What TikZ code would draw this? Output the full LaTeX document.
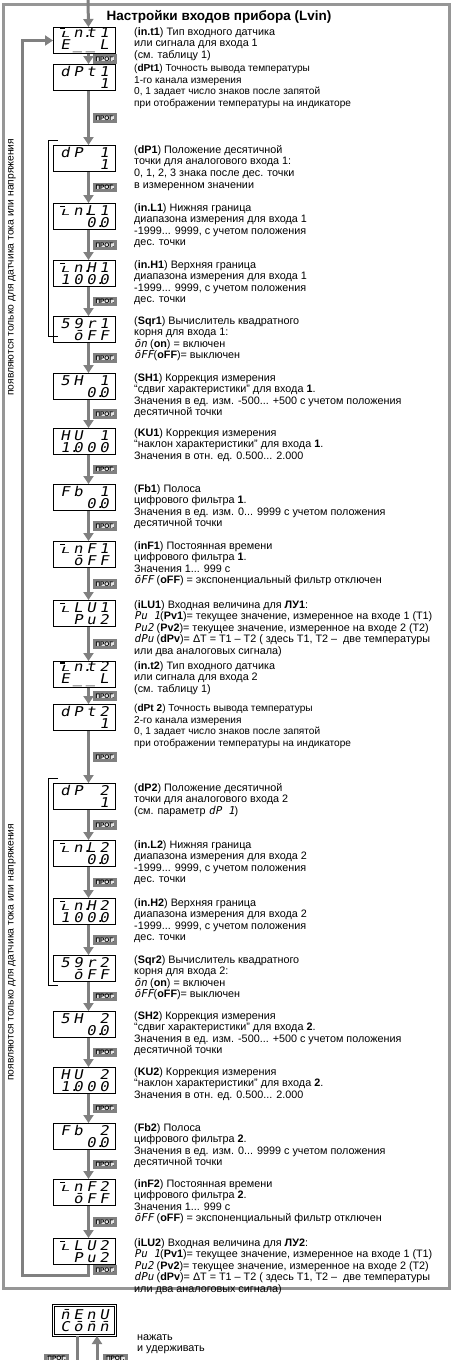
\documentclass[tikz,border=0pt]{standalone}
\usepackage{fontspec}
\setmainfont{Liberation Sans}
\newfontfamily\segfont{DejaVu Sans Mono}[FakeSlant=0.2,FakeStretch=1.15]
\newfontfamily\segtext{DejaVu Sans Mono}[FakeSlant=0.2]
\usetikzlibrary{arrows.meta}

\definecolor{flowgray}{RGB}{128,128,128}
\definecolor{framegray}{RGB}{150,150,150}

% segment-display letters
\newcommand\segi{\rlap{\raisebox{0.62em}{\rule{0.32em}{0.08em}}}\scalebox{1}[0.62]{L}}
\newcommand\dt{\rlap{.}}
\newcommand\cell[1]{\makebox[13pt][c]{#1}}
\newcommand\dd[4]{\cell{#1}\cell{#2}\cell{#3}\cell{#4}}
\newcommand\sg[1]{{\segtext #1}}

\begin{document}
\begin{tikzpicture}[x=1pt, y=-1pt,
        disp/.style={draw, line width=1pt, anchor=north west, minimum width=62pt, minimum height=26pt,
            inner xsep=0pt, inner ysep=0pt, text width=56pt, align=center,
            font=\segfont\fontsize{13.5}{12}\selectfont},
        menu/.style={disp, double, double distance=1.2pt, minimum height=30pt},
        desc/.style={anchor=north west, align=left, inner sep=0pt, font=\fontsize{10.8}{11.6}\selectfont},
        descsm/.style={desc, font=\fontsize{10.1}{11.6}\selectfont},
        flow/.style={draw=flowgray, line width=3pt, -{Triangle[length=8pt,width=10pt]}},
        flowline/.style={draw=flowgray, line width=3pt},
        prog/.style={draw, fill=gray!20, inner xsep=1.5pt, inner ysep=1pt, font=\bfseries\fontsize{6.5}{7}\selectfont},
        brk/.style={line width=0.6pt},
        vnote/.style={rotate=90, anchor=west, inner sep=0pt, font=\fontsize{10.3}{11}\selectfont}
    ]
    \useasboundingbox (0,0) rectangle (460,1360);

    % frame and title
    \draw[framegray, line width=3pt] (3,4) rectangle (449,1288);
    \node[font=\bfseries\fontsize{13.5}{15}\selectfont] (title) at (219,17) {Настройки входов прибора (Lvin)};

    % displays
    \foreach \nm/\yy/\ta/\tb in {
        int1/27/{\dd{\segi}{n\dt}{t}{1}}/{\dd{E}{\_}{\_}{L}},
        dpt1/64/{\dd{d}{P}{t}{1}}/{\dd{}{}{}{1}},
        dp1/145/{\dd{d}{P}{}{1}}/{\dd{}{}{}{1}},
        inl1/203/{\dd{\segi}{n\dt}{L}{1}}/{\dd{}{}{0\dt}{0}},
        inh1/260/{\dd{\segi}{n\dt}{H}{1}}/{\dd{1}{0}{0\dt}{0}},
        sqr1/316/{\dd{5}{9}{r}{1}}/{\dd{}{\=o}{F}{F}},
        sh1/373/{\dd{5}{H}{}{1}}/{\dd{}{}{0\dt}{0}},
        ku1/428/{\dd{H}{U}{}{1}}/{\dd{1\dt}{0}{0}{0}},
        fb1/484/{\dd{F}{b}{}{1}}/{\dd{}{}{0\dt}{0}},
        inf1/541/{\dd{\segi}{n}{F}{1}}/{\dd{}{\=o}{F}{F}},
        ilu1/600/{\dd{\segi}{L}{U}{1}}/{\dd{}{P}{u}{2}},
        int2/661/{\dd{\segi}{n\dt}{t}{2}}/{\dd{E}{\_}{\_}{L}},
        dpt2/704/{\dd{d}{P}{t}{2}}/{\dd{}{}{}{1}},
        dp2/783/{\dd{d}{P}{}{2}}/{\dd{}{}{}{1}},
        inl2/840/{\dd{\segi}{n\dt}{L}{2}}/{\dd{}{}{0\dt}{0}},
        inh2/898/{\dd{\segi}{n\dt}{H}{2}}/{\dd{1}{0}{0\dt}{0}},
        sqr2/955/{\dd{5}{9}{r}{2}}/{\dd{}{\=o}{F}{F}},
        sh2/1011/{\dd{5}{H}{}{2}}/{\dd{}{}{0\dt}{0}},
        ku2/1067/{\dd{H}{U}{}{2}}/{\dd{1\dt}{0}{0}{0}},
        fb2/1123/{\dd{F}{b}{}{2}}/{\dd{}{}{0\dt}{0}},
        inf2/1179/{\dd{\segi}{n}{F}{2}}/{\dd{}{\=o}{F}{F}},
        ilu2/1238/{\dd{\segi}{L}{U}{2}}/{\dd{}{P}{u}{2}}}
        \node[disp] (\nm) at (53,\yy) {\ta\\\tb};

    % PROG steps
    \foreach \a/\b in {int1/dpt1, dpt1/dp1, dp1/inl1, inl1/inh1, inh1/sqr1, sqr1/sh1, sh1/ku1,
        ku1/fb1, fb1/inf1, inf1/ilu1, ilu1/int2, int2/dpt2, dpt2/dp2, dp2/inl2, inl2/inh2,
        inh2/sqr2, sqr2/sh2, sh2/ku2, ku2/fb2, fb2/inf2, inf2/ilu2}
        \draw[flow] ([xshift=4]\a.south) -- node[prog, right=4pt] {ПРОГ.} ([xshift=4]\b.north);

    % entry and loop back
    \coordinate (entry) at (88,0);
    \coordinate (back) at (22,1275);
    \draw[flow] (entry) -- ([xshift=4]int1.north);
    \draw[flow] ([xshift=4]ilu2.south) |- node[prog, pos=0.25, right=4pt] {ПРОГ.} (back) |- (int1.west);

    % descriptions
    \node[desc] (int1-txt) at ([xshift=18]int1.north east) {(\textbf{in.t1}) Тип входного датчика\\или сигнала для входа 1\\(см. таблицу 1)};
    \node[descsm] (dpt1-txt) at ([xshift=18]dpt1.north east) {(\textbf{dPt1}) Точность вывода температуры\\1-го канала измерения\\0, 1 задает число знаков после запятой\\при отображении температуры на индикаторе};
    \node[desc] (dp1-txt) at ([xshift=18]dp1.north east) {(\textbf{dP1}) Положение десятичной\\точки для аналогового входа 1:\\0, 1, 2, 3 знака после дес. точки\\в измеренном значении};
    \node[desc] (inl1-txt) at ([xshift=18]inl1.north east) {(\textbf{in.L1}) Нижняя граница\\диапазона измерения для входа 1\\-1999... 9999, с учетом положения\\дес. точки};
    \node[desc] (inh1-txt) at ([xshift=18]inh1.north east) {(\textbf{in.H1}) Верхняя граница\\диапазона измерения для входа 1\\-1999... 9999, с учетом положения\\дес. точки};
    \node[desc] (sqr1-txt) at ([xshift=18]sqr1.north east) {(\textbf{Sqr1}) Вычислитель квадратного\\корня для входа 1:\\\sg{\=on} (\textbf{on}) = включен\\\sg{\=oFF}(\textbf{oFF})= выключен};
    \node[desc] (sh1-txt) at ([xshift=18]sh1.north east) {(\textbf{SH1}) Коррекция измерения\\“сдвиг характеристики” для входа \textbf{1}.\\Значения в ед. изм. -500... +500 с учетом положения\\десятичной точки};
    \node[desc] (ku1-txt) at ([xshift=18]ku1.north east) {(\textbf{KU1}) Коррекция измерения\\“наклон характеристики” для входа \textbf{1}.\\Значения в отн. ед. 0.500... 2.000};
    \node[desc] (fb1-txt) at ([xshift=18]fb1.north east) {(\textbf{Fb1}) Полоса\\цифрового фильтра \textbf{1}.\\Значения в ед. изм. 0... 9999 с учетом положения\\десятичной точки};
    \node[desc] (inf1-txt) at ([xshift=18]inf1.north east) {(\textbf{inF1}) Постоянная времени\\цифрового фильтра \textbf{1}.\\Значения 1... 999 с\\\sg{\=oFF} (\textbf{oFF}) = экспоненциальный фильтр отключен};
    \node[desc] (ilu1-txt) at ([xshift=18]ilu1.north east) {(\textbf{iLU1}) Входная величина для \textbf{ЛУ1}:\\\sg{Pu 1}(\textbf{Pv1})= текущее значение, измеренное на входе 1 (T1)\\\sg{Pu2} (\textbf{Pv2})= текущее значение, измеренное на входе 2 (T2)\\\sg{dPu} (\textbf{dPv})= ΔT = T1 – T2 ( здесь T1, T2 – \ две температуры\\или два аналоговых сигнала)};
    \node[desc] (int2-txt) at ([xshift=18]int2.north east) {(\textbf{in.t2}) Тип входного датчика\\или сигнала для входа 2\\(см. таблицу 1)};
    \node[descsm] (dpt2-txt) at ([xshift=18]dpt2.north east) {(\textbf{dPt 2}) Точность вывода температуры\\2-го канала измерения\\0, 1 задает число знаков после запятой\\при отображении температуры на индикаторе};
    \node[desc] (dp2-txt) at ([xshift=18]dp2.north east) {(\textbf{dP2}) Положение десятичной\\точки для аналогового входа 2\\(см. параметр \sg{dP 1})};
    \node[desc] (inl2-txt) at ([xshift=18]inl2.north east) {(\textbf{in.L2}) Нижняя граница\\диапазона измерения для входа 2\\-1999... 9999, с учетом положения\\дес. точки};
    \node[desc] (inh2-txt) at ([xshift=18]inh2.north east) {(\textbf{in.H2}) Верхняя граница\\диапазона измерения для входа 2\\-1999... 9999, с учетом положения\\дес. точки};
    \node[desc] (sqr2-txt) at ([xshift=18]sqr2.north east) {(\textbf{Sqr2}) Вычислитель квадратного\\корня для входа 2:\\\sg{\=on} (\textbf{on}) = включен\\\sg{\=oFF}(\textbf{oFF})= выключен};
    \node[desc] (sh2-txt) at ([xshift=18]sh2.north east) {(\textbf{SH2}) Коррекция измерения\\“сдвиг характеристики” для входа \textbf{2}.\\Значения в ед. изм. -500... +500 с учетом положения\\десятичной точки};
    \node[desc] (ku2-txt) at ([xshift=18]ku2.north east) {(\textbf{KU2}) Коррекция измерения\\“наклон характеристики” для входа \textbf{2}.\\Значения в отн. ед. 0.500... 2.000};
    \node[desc] (fb2-txt) at ([xshift=18]fb2.north east) {(\textbf{Fb2}) Полоса\\цифрового фильтра \textbf{2}.\\Значения в ед. изм. 0... 9999 с учетом положения\\десятичной точки};
    \node[desc] (inf2-txt) at ([xshift=18]inf2.north east) {(\textbf{inF2}) Постоянная времени\\цифрового фильтра \textbf{2}.\\Значения 1... 999 с\\\sg{\=oFF} (\textbf{oFF}) = экспоненциальный фильтр отключен};
    \node[desc] (ilu2-txt) at ([xshift=18]ilu2.north east) {(\textbf{iLU2}) Входная величина для \textbf{ЛУ2}:\\\sg{Pu 1}(\textbf{Pv1})= текущее значение, измеренное на входе 1 (T1)\\\sg{Pu2} (\textbf{Pv2})= текущее значение, измеренное на входе 2 (T2)\\\sg{dPu} (\textbf{dPv})= ΔT = T1 – T2 ( здесь T1, T2 – \ две температуры\\или два аналоговых сигнала)};

    % current/voltage sensor brackets
    \draw[brk] (58,140) -- (48,140) -- (48,336) -- (58,336);
    \node[vnote] (note1) at (12,396) {появляются только для датчика тока или напряжения};
    \draw[brk] (58,778) -- (48,778) -- (48,985) -- (58,985);
    \node[vnote] (note2) at (12,1081) {появляются только для датчика тока или напряжения};

    % menu below the frame
    \node[menu] (menu) at (53,1305) {\dd{\=n}{E}{n}{U}\\\dd{C}{\=o}{\=n}{\=n}};
    \coordinate (out) at (77,1366);
    \coordinate (in) at (97,1366);
    \draw[flowline] (menu.south -| out) -- node[prog, pos=0.75, left=8pt] {ПРОГ.} (out);
    \draw[flow] (in) -- node[prog, pos=0.25, right=6pt] {ПРОГ.} (menu.south -| in);
    \node[desc] (hold) at (137,1334) {нажать\\и удерживать};

\end{tikzpicture}
\end{document}
